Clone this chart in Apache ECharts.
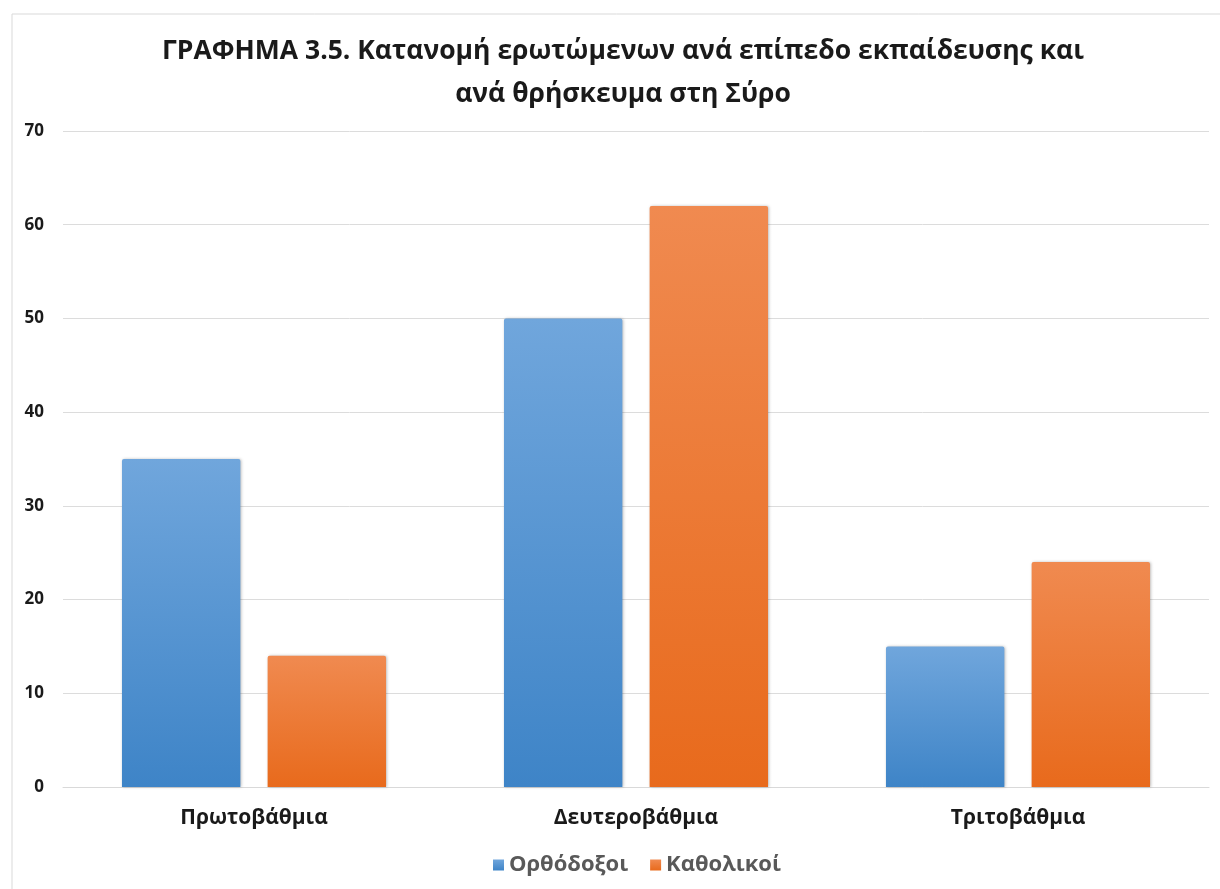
<!DOCTYPE html>
<html>
<head>
<meta charset="utf-8">
<script src="https://cdn.jsdelivr.net/npm/echarts@6/dist/echarts.min.js"></script>
<style>
    html, body { margin: 0; padding: 0; background: #fff; }
    #chart { width: 1220px; height: 889px; }
</style>
</head>
<body>
<div id="chart"></div>
<script>
    // επίπεδα εκπαίδευσης
    var categories = ['Πρωτοβάθμια', 'Δευτεροβάθμια', 'Τριτοβάθμια'];
    var orthodoxoi = [35, 50, 15];
    var katholikoi = [14, 62, 24];
    var seriesNames = ['Ορθόδοξοι', 'Καθολικοί'];

    var myChart = echarts.init(document.getElementById('chart'));

    function grad(top, bottom) {
        return new echarts.graphic.LinearGradient(0, 0, 0, 1, [
            {offset: 0, color: top},
            {offset: 1, color: bottom}
        ]);
    }

    var option = {
        backgroundColor: '#fff',
        color: ['#4a8fd0', '#ec7a33'],
        textStyle: {fontFamily: 'Open Sans'},
        graphic: [{
            type: 'rect',
            shape: {x: 12, y: 14, width: 1230, height: 900},
            style: {fill: 'none', stroke: '#d9d9d9', lineWidth: 1},
            silent: true
        }],
        title: {
            text: 'ΓΡΑΦΗΜΑ 3.5. Κατανομή ερωτώμενων ανά επίπεδο εκπαίδευσης και\nανά θρήσκευμα στη Σύρο',
            left: 618,
            textAlign: 'center',
            top: 25,
            textStyle: {
                fontFamily: 'Open Sans',
                fontWeight: 'bold',
                fontSize: 26.5,
                lineHeight: 43,
                color: '#1a1a1a'
            }
        },
        legend: {
            data: seriesNames,
            bottom: 8,
            left: 488,
            icon: 'rect',
            itemWidth: 11,
            itemHeight: 11,
            itemGap: 22,
            textStyle: {fontSize: 22, fontWeight: 'bold', color: '#595959', fontFamily: 'Open Sans'}
        },
        grid: {left: 63, right: 11, top: 131, bottom: 102},
        xAxis: {
            type: 'category',
            data: categories,
            axisLine: {lineStyle: {color: '#d9d9d9'}},
            axisTick: {show: false},
            axisLabel: {fontSize: 21, fontWeight: 'bold', color: '#1a1a1a', margin: 21}
        },
        yAxis: {
            type: 'value',
            min: 0,
            max: 70,
            interval: 10,
            axisLine: {show: false},
            axisTick: {show: false},
            splitLine: {lineStyle: {color: '#dcdcdc'}},
            axisLabel: {fontSize: 17, fontWeight: 'bold', color: '#1a1a1a', margin: 19}
        },
        series: [
            {
                name: seriesNames[0],
                type: 'bar',
                data: orthodoxoi,
                barWidth: '31%',
                barGap: '23%',
                itemStyle: {
                    color: grad('#70a6dc', '#3e84c7'),
                    borderRadius: [2, 2, 0, 0],
                    shadowColor: 'rgba(0,0,0,0.25)',
                    shadowBlur: 3,
                    shadowOffsetX: 1
                }
            },
            {
                name: seriesNames[1],
                type: 'bar',
                data: katholikoi,
                barWidth: '31%',
                itemStyle: {
                    color: grad('#f08a50', '#e86a1c'),
                    borderRadius: [2, 2, 0, 0],
                    shadowColor: 'rgba(0,0,0,0.25)',
                    shadowBlur: 3,
                    shadowOffsetX: 1
                }
            }
        ]
    };

    myChart.setOption(option);
</script>
</body>
</html>
